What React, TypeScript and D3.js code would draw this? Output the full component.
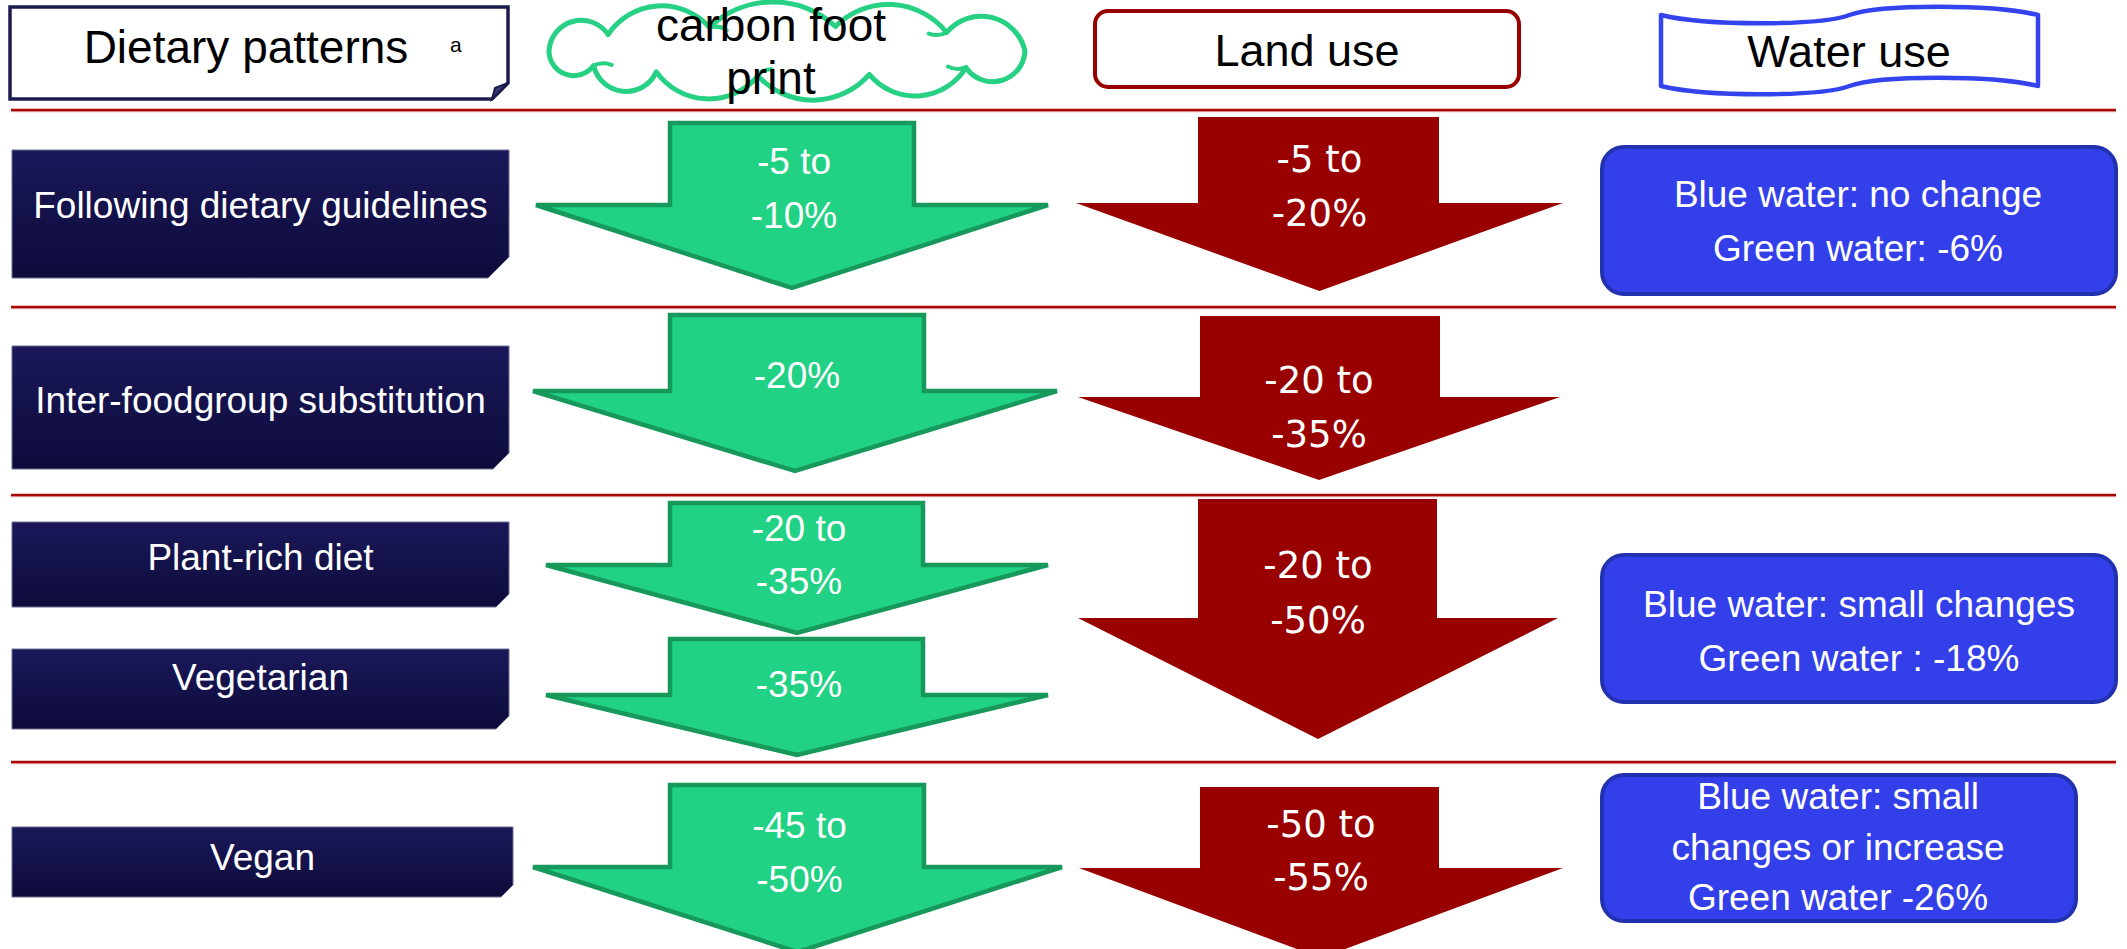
import React from "react";
import * as d3 from "d3";

// ---- content ----
const headerLabels = ["Dietary patterns", "carbon foot", "print", "Land use", "Water use"];
const headerNote = "a";
const dietPatterns = [
  "Following dietary guidelines",
  "Inter-foodgroup substitution",
  "Plant-rich diet",
  "Vegetarian",
  "Vegan",
];
const carbonLabels = [["-5 to", "-10%"], ["-20%"], ["-20 to", "-35%"], ["-35%"], ["-45 to", "-50%"]];
const landLabels = [["-5 to", "-20%"], ["-20 to", "-35%"], ["-20 to", "-50%"], ["-50 to", "-55%"]];
const waterLabels = [
  ["Blue water: no change", "Green water: -6%"],
  ["Blue water: small changes", "Green water : -18%"],
  ["Blue water: small", "changes or increase", "Green water -26%"],
];

// ---- layout ----
const W = 2127;
const H = 949;
const separatorsY = [110, 307, 495, 762];

type Box = { x0: number; x1: number; y0: number; y1: number; cut: number; base: number };
const labelBoxes: Box[] = [
  { x0: 12, x1: 509, y0: 150, y1: 278, cut: 21, base: 218 },
  { x0: 12, x1: 509, y0: 346, y1: 469, cut: 16, base: 413 },
  { x0: 12, x1: 509, y0: 522, y1: 607, cut: 13, base: 570 },
  { x0: 12, x1: 509, y0: 649, y1: 729, cut: 13, base: 690 },
  { x0: 12, x1: 513, y0: 827, y1: 897, cut: 12, base: 870 },
];

type Arrow = { top: number; neck: number; tip: number; s0: number; s1: number; h0: number; h1: number; bases: number[] };
const carbonArrows: Arrow[] = [
  { top: 123, neck: 205, tip: 288, s0: 670, s1: 914, h0: 536, h1: 1048, bases: [174, 228] },
  { top: 315, neck: 391, tip: 471, s0: 670, s1: 924, h0: 533, h1: 1057, bases: [388] },
  { top: 503, neck: 565, tip: 633, s0: 670, s1: 923, h0: 546, h1: 1048, bases: [541, 594] },
  { top: 639, neck: 695, tip: 755, s0: 670, s1: 923, h0: 546, h1: 1048, bases: [697] },
  { top: 785, neck: 867, tip: 952, s0: 670, s1: 924, h0: 533, h1: 1062, bases: [838, 892] },
];
const landArrows: Arrow[] = [
  { top: 117, neck: 203, tip: 291, s0: 1198, s1: 1439, h0: 1076, h1: 1563, bases: [172, 226] },
  { top: 316, neck: 397, tip: 480, s0: 1200, s1: 1440, h0: 1078, h1: 1560, bases: [393, 447] },
  { top: 499, neck: 618, tip: 739, s0: 1198, s1: 1437, h0: 1078, h1: 1558, bases: [578, 633] },
  { top: 787, neck: 868, tip: 958, s0: 1200, s1: 1439, h0: 1079, h1: 1563, bases: [837, 890] },
];

type WBox = { x0: number; x1: number; y0: number; y1: number; cx: number; bases: number[] };
const waterBoxes: WBox[] = [
  { x0: 1600, x1: 2118, y0: 145, y1: 296, cx: 1858, bases: [207, 261] },
  { x0: 1600, x1: 2118, y0: 553, y1: 704, cx: 1859, bases: [617, 671] },
  { x0: 1600, x1: 2078, y0: 773, y1: 923, cx: 1838, bases: [809, 860, 910] },
];

// cloud bump break points, as fractions of the way round the base ellipse (starting at its left end)
const cloudBreaks = [0, 0.065, 0.17, 0.3, 0.415, 0.5, 0.565, 0.665, 0.78, 0.885, 0.95];

const SANS = "'Liberation Sans', Arial, Helvetica, sans-serif";
const DEJAVU = "'DejaVu Sans', Verdana, sans-serif";

const GREEN_FILL = "#21d184";
const GREEN_EDGE = "#17995c";
const RED = "#990000";
const BLUE_FILL = "#3340ea";
const BLUE_EDGE = "#2231b0";
const NAVY_EDGE = "#1c1b4e";
const CLOUD_EDGE = "#26d184";

const line = d3.line<[number, number]>();

function arrowPath(a: Arrow): string {
  const mid = (a.h0 + a.h1) / 2;
  const pts: [number, number][] = [
    [a.s0, a.top],
    [a.s1, a.top],
    [a.s1, a.neck],
    [a.h1, a.neck],
    [mid, a.tip],
    [a.h0, a.neck],
    [a.s0, a.neck],
  ];
  return line(pts) + "Z";
}

function snipPath(b: Box): string {
  const pts: [number, number][] = [
    [b.x0, b.y0],
    [b.x1, b.y0],
    [b.x1, b.y1 - b.cut],
    [b.x1 - b.cut, b.y1],
    [b.x0, b.y1],
  ];
  return line(pts) + "Z";
}

// Cloud outline: circular bumps strung along an ellipse, plus short creases between bumps.
function cloudPath(): { outer: string; inner: string } {
  const cx = 787, cy = 51, rx = 238, ry = 25;
  const n = 1440;
  const samples: [number, number][] = [];
  for (let i = 0; i <= n; i++) {
    const t = Math.PI + (i / n) * Math.PI * 2;
    samples.push([cx + rx * Math.cos(t), cy + ry * Math.sin(t)]);
  }
  const cum = [0];
  for (let i = 1; i < samples.length; i++) {
    cum.push(cum[i - 1] + Math.hypot(samples[i][0] - samples[i - 1][0], samples[i][1] - samples[i - 1][1]));
  }
  const total = cum[cum.length - 1];
  const at = (f: number): [number, number] => {
    const L = f * total;
    const i = Math.max(1, Math.min(cum.length - 1, d3.bisectLeft(cum, L)));
    const u = (L - cum[i - 1]) / (cum[i] - cum[i - 1] || 1);
    return [
      samples[i - 1][0] + u * (samples[i][0] - samples[i - 1][0]),
      samples[i - 1][1] + u * (samples[i][1] - samples[i - 1][1]),
    ];
  };
  const pts = cloudBreaks.map(at);
  let d = `M${pts[0][0]},${pts[0][1]}`;
  let inner = "";
  for (let i = 0; i < pts.length; i++) {
    const a = pts[i];
    const b = pts[(i + 1) % pts.length];
    const c = Math.hypot(b[0] - a[0], b[1] - a[1]);
    const h = Math.min(25, c * 0.36);
    const r = (c * c) / 4 / (2 * h) + h / 2;
    d += ` A${r},${r} 0 0 1 ${b[0]},${b[1]}`;
    if (i % 2 === 1) {
      const dx = cx - b[0], dy = cy - b[1];
      const len = Math.hypot(dx, dy);
      const ex = b[0] + (dx / len) * 18, ey = b[1] + (dy / len) * 10;
      const mx = (b[0] + ex) / 2 + (dy / len) * 6, my = (b[1] + ey) / 2 - (dx / len) * 4;
      inner += `M${b[0]},${b[1]} Q${mx},${my} ${ex},${ey} `;
    }
  }
  return { outer: d + " Z", inner };
}

function wavePath(x0: number, x1: number, yTop: number, yBot: number, amp: number): string {
  const w = x1 - x0;
  const xm = x0 + w * 0.5;
  const top =
    `M${x0},${yTop} C${x0 + w * 0.12},${yTop + amp} ${xm - w * 0.08},${yTop + amp} ${xm},${yTop} ` +
    `C${xm + w * 0.08},${yTop - amp} ${x1 - w * 0.12},${yTop - amp} ${x1},${yTop}`;
  const bottom =
    `L${x1},${yBot} C${x1 - w * 0.12},${yBot - amp} ${xm + w * 0.08},${yBot - amp} ${xm},${yBot} ` +
    `C${xm - w * 0.08},${yBot + amp} ${x0 + w * 0.12},${yBot + amp} ${x0},${yBot} Z`;
  return top + " " + bottom;
}

export default function App() {
  const cloud = cloudPath();
  const dietHeader: Box = { x0: 10, x1: 508, y0: 7, y1: 99, cut: 16, base: 63 };
  return (
    <svg
      width={W}
      height={H}
      viewBox={`0 0 ${W} ${H}`}
      style={{ position: "absolute", left: 0, top: 0, background: "#ffffff" }}
    >
      <defs>
        <linearGradient id="navyGrad" x1="0" y1="0" x2="0" y2="1">
          <stop offset="0" stopColor="#1a1859" />
          <stop offset="1" stopColor="#0e0b3b" />
        </linearGradient>
      </defs>
      <rect x={0} y={0} width={W} height={H} fill="#ffffff" />

      {/* header: dietary patterns */}
      <path d={snipPath(dietHeader)} fill="#ffffff" stroke={NAVY_EDGE} strokeWidth={3.5} />
      <path
        d={line([
          [dietHeader.x1, dietHeader.y1 - dietHeader.cut],
          [dietHeader.x1 - 13, dietHeader.y1 - dietHeader.cut + 5],
          [dietHeader.x1 - dietHeader.cut, dietHeader.y1],
        ]) + "Z"}
        fill="#3a3a70"
        stroke={NAVY_EDGE}
        strokeWidth={2}
      />
      <text x={246} y={63} textAnchor="middle" fontFamily={SANS} fontSize={46} fill="#000">
        {headerLabels[0]}
      </text>
      <text x={450} y={52} fontFamily={SANS} fontSize={21} fill="#000">
        {headerNote}
      </text>

      {/* header: carbon footprint cloud */}
      <path d={cloud.outer} fill="#ffffff" stroke={CLOUD_EDGE} strokeWidth={5} strokeLinejoin="round" />
      <path d={cloud.inner} fill="none" stroke={CLOUD_EDGE} strokeWidth={4} strokeLinecap="round" />
      <text x={771} y={41} textAnchor="middle" fontFamily={SANS} fontSize={46} fill="#000">
        {headerLabels[1]}
      </text>
      <text x={771} y={94} textAnchor="middle" fontFamily={SANS} fontSize={46} fill="#000">
        {headerLabels[2]}
      </text>

      {/* header: land use */}
      <rect x={1095} y={11} width={424} height={76} rx={13} ry={13} fill="#ffffff" stroke={RED} strokeWidth={4} />
      <text x={1307} y={66} textAnchor="middle" fontFamily={SANS} fontSize={45} fill="#000">
        {headerLabels[3]}
      </text>

      {/* header: water use banner */}
      <path d={wavePath(1661, 2038, 15, 86, 11)} fill="#ffffff" stroke="#3344ee" strokeWidth={4.5} strokeLinejoin="round" />
      <text x={1849} y={67} textAnchor="middle" fontFamily={SANS} fontSize={45} fill="#000">
        {headerLabels[4]}
      </text>

      {/* row separators */}
      {separatorsY.map((y, i) => (
        <g key={`sep-${i}`}>
          <line x1={11} x2={2116} y1={y + 1.5} y2={y + 1.5} stroke="#e8b0b0" strokeWidth={1.5} />
          <line x1={11} x2={2116} y1={y} y2={y} stroke="#a80808" strokeWidth={2.5} />
        </g>
      ))}

      {/* dietary pattern labels */}
      {dietPatterns.map((name, i) => {
        const b = labelBoxes[i];
        return (
          <g key={`lab-${i}`}>
            <path d={snipPath(b)} fill="url(#navyGrad)" stroke="#6d6c96" strokeWidth={1} />
            <text
              x={(b.x0 + b.x1) / 2}
              y={b.base}
              textAnchor="middle"
              fontFamily={SANS}
              fontSize={37}
              fill="#ffffff"
            >
              {name}
            </text>
          </g>
        );
      })}

      {/* carbon footprint arrows */}
      {carbonArrows.map((a, i) => (
        <g key={`ca-${i}`}>
          <path d={arrowPath(a)} fill={GREEN_FILL} stroke={GREEN_EDGE} strokeWidth={4.5} strokeLinejoin="miter" />
          {carbonLabels[i].map((t, j) => (
            <text
              key={j}
              x={(a.h0 + a.h1) / 2 + 2}
              y={a.bases[j]}
              textAnchor="middle"
              fontFamily={SANS}
              fontSize={37}
              fill="#ffffff"
            >
              {t}
            </text>
          ))}
        </g>
      ))}

      {/* land use arrows */}
      {landArrows.map((a, i) => (
        <g key={`la-${i}`}>
          <path d={arrowPath(a)} fill={RED} />
          {landLabels[i].map((t, j) => (
            <text
              key={j}
              x={(a.h0 + a.h1) / 2}
              y={a.bases[j]}
              textAnchor="middle"
              fontFamily={DEJAVU}
              fontSize={37}
              fill="#ffffff"
            >
              {t}
            </text>
          ))}
        </g>
      ))}

      {/* water use boxes */}
      {waterBoxes.map((b, i) => (
        <g key={`wb-${i}`}>
          <rect
            x={b.x0 + 2}
            y={b.y0 + 2}
            width={b.x1 - b.x0 - 4}
            height={b.y1 - b.y0 - 4}
            rx={22}
            ry={22}
            fill={BLUE_FILL}
            stroke={BLUE_EDGE}
            strokeWidth={4}
          />
          {waterLabels[i].map((t, j) => (
            <text key={j} x={b.cx} y={b.bases[j]} textAnchor="middle" fontFamily={SANS} fontSize={37} fill="#ffffff">
              {t}
            </text>
          ))}
        </g>
      ))}
    </svg>
  );
}
